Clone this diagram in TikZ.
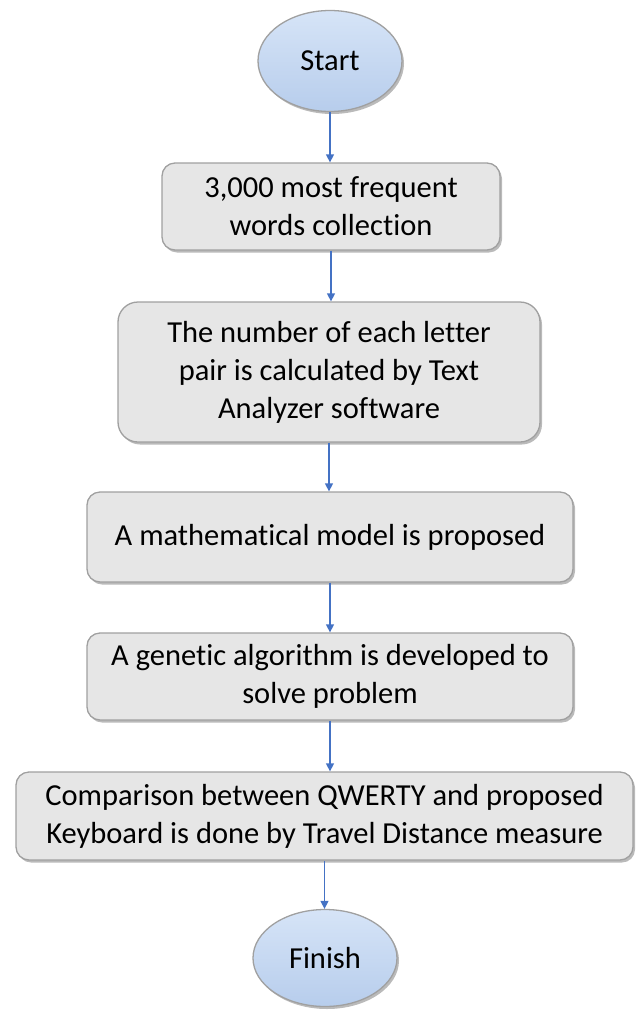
\documentclass[tikz,border=0pt]{standalone}
\usepackage{fontspec}
\setmainfont{Carlito}[Ligatures=NoCommon]
\usetikzlibrary{arrows.meta,shapes.geometric,shadows}
\definecolor{boxfill}{HTML}{E6E6E6}
\definecolor{boxline}{HTML}{A0A0A0}
\definecolor{elltop}{HTML}{D6E4F7}
\definecolor{ellbot}{HTML}{B7CDEC}
\definecolor{arrowblue}{HTML}{4472C4}
\tikzset{
  stepbox/.style={draw=boxline, line width=1.3pt, fill=boxfill, rounded corners=13pt,
    align=center, inner sep=0pt,
    drop shadow={shadow xshift=2pt, shadow yshift=-2.5pt, opacity=0.45, fill=black!60},
    font=\fontsize{30.5}{38}\selectfont},
  term/.style={ellipse, draw=boxline, line width=1.3pt, top color=elltop, bottom color=ellbot,
    inner sep=0pt, align=center,
    drop shadow={shadow xshift=2pt, shadow yshift=-2.5pt, opacity=0.45, fill=black!60},
    font=\fontsize{30.5}{38}\selectfont},
  arr/.style={draw=arrowblue, line width=1.4pt, -{Triangle[length=8pt,width=8pt]}}
}
\begin{document}
\begin{tikzpicture}[x=1pt,y=-1pt]
\useasboundingbox (0,0) rectangle (635,1010);
\node[term, minimum width=144pt, minimum height=101pt] (start) at (330,61) {Start};
\node[stepbox, minimum width=338pt, minimum height=87pt] (b1) at (331,206.5) {3,000 most frequent\\words collection};
\node[stepbox, minimum width=422pt, minimum height=140pt, rounded corners=20pt] (b2) at (329,372) {The number of each letter\\pair is calculated by Text\\Analyzer software};
\node[stepbox, minimum width=486pt, minimum height=90pt] (b3) at (330,537) {A mathematical model is proposed};
\node[stepbox, minimum width=486pt, minimum height=87pt] (b4) at (330,676.5) {A genetic algorithm is developed to\\solve problem};
\node[stepbox, minimum width=617pt, minimum height=88pt] (b5) at (324.5,816) {Comparison between QWERTY and proposed\\Keyboard is done by Travel Distance measure};
\node[term, minimum width=144pt, minimum height=97pt] (finish) at (325,958) {Finish};
\draw[arr] (start.south) -- (start.south |- b1.north);
\draw[arr] (b1.south) -- (b1.south |- b2.north);
\draw[arr] (b2.south) -- (b2.south |- b3.north);
\draw[arr] (b3.south) -- (b3.south |- b4.north);
\draw[arr] (b4.south) -- (b4.south |- b5.north);
\draw[arr] (b5.south) -- (b5.south |- finish.north);
\end{tikzpicture}
\end{document}
